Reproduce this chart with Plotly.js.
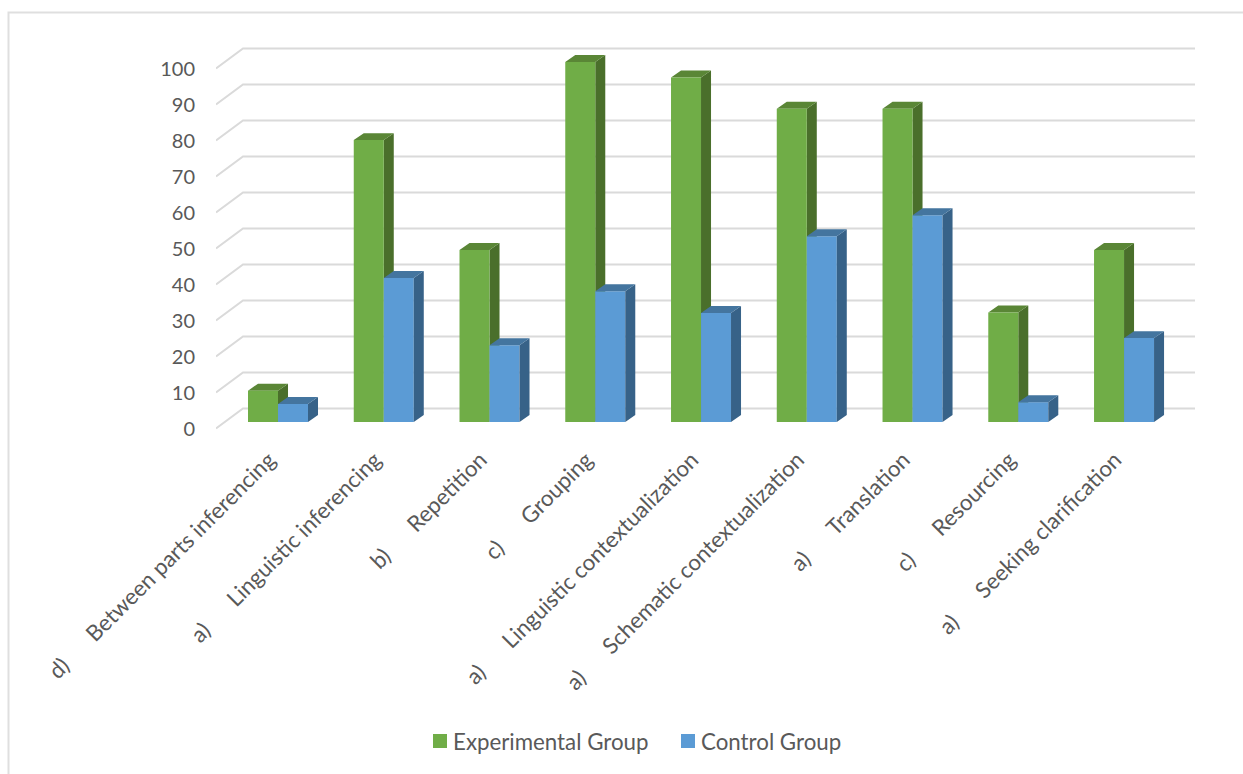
<!DOCTYPE html>
<html>
<head>
<meta charset="utf-8">
<script src="https://cdn.plot.ly/plotly-3.0.1.min.js"></script>
<style>html,body{margin:0;padding:0;background:#fff}#chart{width:1243px;height:774px}</style>
</head>
<body>
<div id="chart"></div>
<script>
// Listening strategies: share of learners using each one, by group.
const gap = '\u00A0'.repeat(6);
const strategies = [
  'd)' + gap + 'Between parts inferencing',
  'a)' + gap + 'Linguistic inferencing',
  'b)' + gap + 'Repetition',
  'c)' + gap + 'Grouping',
  'a)' + gap + 'Linguistic contextualization',
  'a)' + gap + 'Schematic contextualization',
  'a)' + gap + 'Translation',
  'c)' + gap + 'Resourcing',
  'a)' + gap + 'Seeking clarification'
];
const experimental = [8.7, 78.3, 47.8, 100, 95.7, 87, 87, 30.4, 47.8];
const control = [5, 40, 21.3, 36.3, 30.3, 51.6, 57.4, 5.5, 23.3];
const valueTicks = [0, 10, 20, 30, 40, 50, 60, 70, 80, 90, 100];

// Column proportions and the fake-3D extrusion, in axis units.
const positions = strategies.map((_, i) => i);
const columnWidth = 0.2837;
const depthX = 0.0946;
const depthY = 1.94;
// Offset of the back wall from the front edge of the floor.
const wallX = 0.2553;
const wallY = 5.55;
const wallEnd = 8.671;

const GREEN = '#70ad47', GREEN_TOP = '#5a8636', GREEN_SIDE = '#4a6f2b';
const BLUE = '#5b9bd5', BLUE_TOP = '#44759f', BLUE_SIDE = '#376288';

function sideFaces(values, left) {
  const xs = [], ys = [];
  values.forEach((v, i) => {
    const x = i + left + columnWidth;
    xs.push(x, x + depthX, x + depthX, x, x, null);
    ys.push(0, depthY, v + depthY, v, 0, null);
  });
  return {x: xs, y: ys};
}
function topFaces(values, left) {
  const xs = [], ys = [];
  values.forEach((v, i) => {
    const a = i + left, b = a + columnWidth;
    xs.push(a, a + depthX, b + depthX, b, a, null);
    ys.push(v, v + depthY, v + depthY, v, v, null);
  });
  return {x: xs, y: ys};
}
function face(poly, color, yaxis) {
  return {type: 'scatter', mode: 'lines', x: poly.x, y: poly.y, yaxis: yaxis,
          fill: 'toself', fillcolor: color, line: {width: 0, color: color},
          hoverinfo: 'skip', showlegend: false};
}

// Gridlines run up the side wall from the floor edge, then along the back wall.
const gridX = [], gridY = [];
const startX = -0.5863;
valueTicks.forEach(v => {
  gridX.push(startX, startX + wallX, wallEnd, null);
  gridY.push(v, v + wallY, v + wallY, null);
});

const traces = [
  {type: 'scatter', mode: 'lines', x: gridX, y: gridY, yaxis: 'y',
   line: {color: '#dadada', width: 2}, hoverinfo: 'skip', showlegend: false},
  face(sideFaces(experimental, -columnWidth), GREEN_SIDE, 'y2'),
  face(topFaces(experimental, -columnWidth), GREEN_TOP, 'y2'),
  {type: 'bar', name: 'Experimental Group', x: positions, y: experimental, yaxis: 'y3',
   marker: {color: GREEN}},
  {type: 'bar', name: 'Control Group', x: positions, y: control, yaxis: 'y3',
   marker: {color: BLUE}},
  face(sideFaces(control, 0), BLUE_SIDE, 'y3'),
  face(topFaces(control, 0), BLUE_TOP, 'y3')
];

const layout = {
  width: 1243, height: 774,
  margin: {l: 216, r: 48, t: 40, b: 342},
  paper_bgcolor: '#ffffff', plot_bgcolor: 'rgba(0,0,0,0)',
  font: {family: 'Lato, sans-serif', size: 22, color: '#595959'},
  barmode: 'group', bargap: 0.4326, bargroupgap: 0,
  xaxis: {
    range: [-0.5863, 8.671], tickmode: 'array', tickvals: positions, ticktext: strategies,
    tickangle: -45, ticks: 'outside', ticklen: 5, tickcolor: 'rgba(0,0,0,0)',
    ticklabelshift: -9,
    showgrid: false, zeroline: false, showline: false, automargin: false,
    tickfont: {size: 22.3, color: '#595959'}
  },
  yaxis: {
    range: [-0.972, 107.92], tickmode: 'array', tickvals: valueTicks,
    ticks: 'outside', ticklen: 16, tickcolor: 'rgba(0,0,0,0)',
    showgrid: false, zeroline: false, showline: false, automargin: false,
    tickfont: {size: 20, color: '#595959'}
  },
  yaxis2: {range: [-2.78, 106.11], overlaying: 'y', visible: false},
  yaxis3: {range: [-2.78, 106.11], overlaying: 'y', visible: false},
  legend: {
    orientation: 'h', xref: 'paper', xanchor: 'left', yref: 'paper', yanchor: 'middle',
    x: (413 - 216) / 979, y: (432 - 741) / 392,
    entrywidthmode: 'pixels', entrywidth: 203,
    font: {size: 22.3, color: '#595959'}, traceorder: 'normal'
  }
};

// Outer frame of the chart card.
layout.shapes = [{
  type: 'path', xref: 'paper', yref: 'paper',
  path: 'M ' + ((8.5 - 216) / 979) + ' ' + ((432 - 774) / 392) +
        ' L ' + ((8.5 - 216) / 979) + ' ' + ((432 - 12.5) / 392) +
        ' L ' + ((1243 - 216) / 979) + ' ' + ((432 - 12.5) / 392),
  line: {color: '#dfdfdf', width: 2}, layer: 'below'
}];

Plotly.newPlot('chart', traces, layout, {displayModeBar: false}).then(() => {
  // Legend keys sit closer to their labels and are slightly larger than the default.
  document.querySelectorAll('.legend .traces .legendpoints path').forEach(p => {
    p.setAttribute('d', 'M7,7H-7V-7H7Z');
    p.setAttribute('transform', 'translate(27,0)');
  });
});
</script>
</body>
</html>
